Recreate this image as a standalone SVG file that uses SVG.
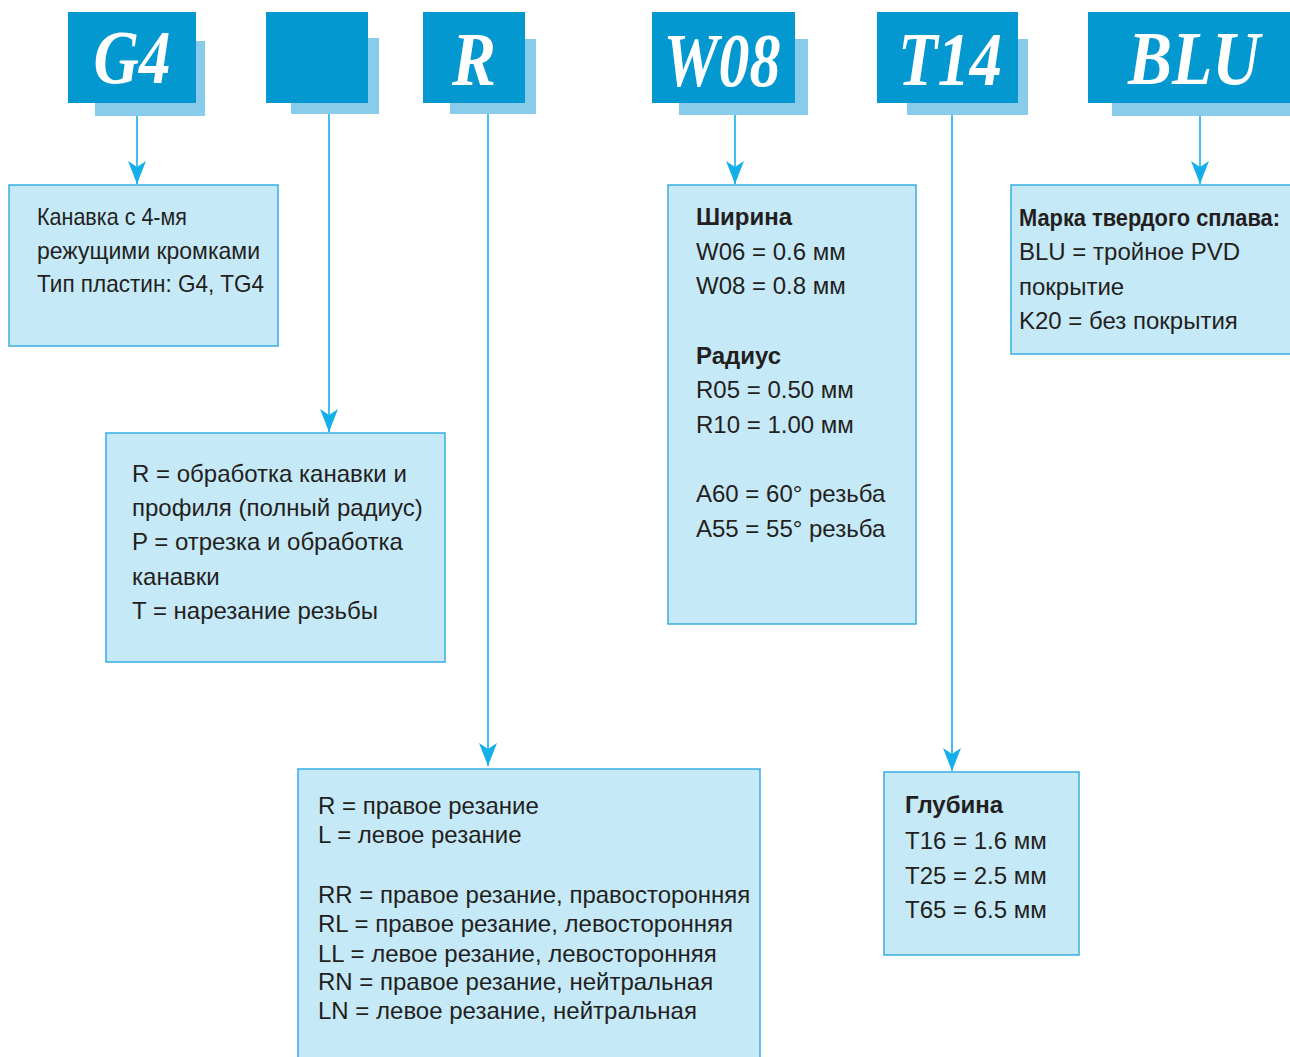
<svg xmlns="http://www.w3.org/2000/svg" width="1290" height="1057" viewBox="0 0 1290 1057">
  <style>
    .shadow { fill: #88cbea; }
    .code { fill: #0398cf; }
    .codetxt { font-family: "Liberation Serif", serif; font-weight: bold; font-style: italic; font-size: 76px; fill: #ffffff; text-anchor: middle; }
    .box { fill: #c6e9f8; stroke: #38ade1; stroke-width: 1.5; }
    .txt { font-family: "Liberation Sans", Arial, sans-serif; font-size: 24px; fill: #231f20; }
    .b { font-weight: bold; }
    .link { stroke: #14aee9; stroke-width: 1.6; fill: none; }
  </style>
  <defs>
    <marker id="arrow" markerWidth="18" markerHeight="24" refX="9" refY="23" orient="0" markerUnits="userSpaceOnUse">
      <path d="M0,0 L9,6 L18,0 L9,23 Z" fill="#14aee9"/>
    </marker>
  </defs>
  <rect width="1290" height="1057" fill="#ffffff"/>

  <!-- code blocks -->
  <g id="code-g4">
    <rect class="shadow" x="95" y="41" width="110" height="75"/>
    <rect class="code" x="68" y="12" width="128" height="91"/>
    <text class="codetxt" x="132" y="83" textLength="77" lengthAdjust="spacingAndGlyphs">G4</text>
  </g>
  <g id="code-blank">
    <rect class="shadow" x="291" y="38" width="88" height="76"/>
    <rect class="code" x="266" y="12" width="102" height="91"/>
  </g>
  <g id="code-r">
    <rect class="shadow" x="450" y="39" width="86" height="75"/>
    <rect class="code" x="423" y="12" width="102" height="91"/>
    <text class="codetxt" x="474" y="85" textLength="44" lengthAdjust="spacingAndGlyphs">R</text>
  </g>
  <g id="code-w08">
    <rect class="shadow" x="679" y="39" width="129" height="76"/>
    <rect class="code" x="652" y="12" width="143" height="91"/>
    <text class="codetxt" x="722" y="86" textLength="117" lengthAdjust="spacingAndGlyphs">W08</text>
  </g>
  <g id="code-t14">
    <rect class="shadow" x="907" y="39" width="121" height="76"/>
    <rect class="code" x="877" y="12" width="141" height="91"/>
    <text class="codetxt" x="950" y="85" textLength="104" lengthAdjust="spacingAndGlyphs">T14</text>
  </g>
  <g id="code-blu">
    <rect class="shadow" x="1112" y="39" width="178" height="77"/>
    <rect class="code" x="1088" y="12" width="202" height="91"/>
    <text class="codetxt" x="1194" y="84" textLength="132" lengthAdjust="spacingAndGlyphs">BLU</text>
  </g>

  <!-- connectors -->
  <g id="connectors">
    <line class="link" x1="137" y1="116" x2="137" y2="184" marker-end="url(#arrow)"/>
    <line class="link" x1="329" y1="114" x2="329" y2="432" marker-end="url(#arrow)"/>
    <line class="link" x1="488" y1="114" x2="488" y2="766" marker-end="url(#arrow)"/>
    <line class="link" x1="735" y1="115" x2="735" y2="184" marker-end="url(#arrow)"/>
    <line class="link" x1="952" y1="115" x2="952" y2="771" marker-end="url(#arrow)"/>
    <line class="link" x1="1200" y1="116" x2="1200" y2="184" marker-end="url(#arrow)"/>
  </g>

  <!-- description boxes -->
  <g id="desc-type">
    <rect class="box" x="9" y="185" width="269" height="161"/>
    <text class="txt" x="37" y="225" textLength="150" lengthAdjust="spacingAndGlyphs">Канавка с 4-мя</text>
    <text class="txt" x="37" y="259" textLength="223" lengthAdjust="spacingAndGlyphs">режущими кромками</text>
    <text class="txt" x="37" y="292" textLength="227" lengthAdjust="spacingAndGlyphs">Тип пластин: G4, TG4</text>
  </g>
  <g id="desc-application">
    <rect class="box" x="106" y="433" width="339" height="229"/>
    <text class="txt" x="132" y="482">R = обработка канавки и</text>
    <text class="txt" x="132" y="516">профиля (полный радиус)</text>
    <text class="txt" x="132" y="550">P = отрезка и обработка</text>
    <text class="txt" x="132" y="585">канавки</text>
    <text class="txt" x="132" y="619">T = нарезание резьбы</text>
  </g>
  <g id="desc-hand">
    <rect class="box" x="298" y="769" width="462" height="300"/>
    <text class="txt" x="318" y="814">R = правое резание</text>
    <text class="txt" x="318" y="843">L = левое резание</text>
    <text class="txt" x="318" y="903">RR = правое резание, правосторонняя</text>
    <text class="txt" x="318" y="932">RL = правое резание, левосторонняя</text>
    <text class="txt" x="318" y="962">LL = левое резание, левосторонняя</text>
    <text class="txt" x="318" y="990">RN = правое резание, нейтральная</text>
    <text class="txt" x="318" y="1019">LN = левое резание, нейтральная</text>
  </g>
  <g id="desc-width">
    <rect class="box" x="668" y="185" width="248" height="439"/>
    <text class="txt b" x="696" y="225">Ширина</text>
    <text class="txt" x="696" y="260">W06 = 0.6 мм</text>
    <text class="txt" x="696" y="294">W08 = 0.8 мм</text>
    <text class="txt b" x="696" y="364">Радиус</text>
    <text class="txt" x="696" y="398">R05 = 0.50 мм</text>
    <text class="txt" x="696" y="433">R10 = 1.00 мм</text>
    <text class="txt" x="696" y="502">A60 = 60° резьба</text>
    <text class="txt" x="696" y="537">A55 = 55° резьба</text>
  </g>
  <g id="desc-depth">
    <rect class="box" x="884" y="772" width="195" height="183"/>
    <text class="txt b" x="905" y="813">Глубина</text>
    <text class="txt" x="905" y="849">T16 = 1.6 мм</text>
    <text class="txt" x="905" y="884">T25 = 2.5 мм</text>
    <text class="txt" x="905" y="918">T65 = 6.5 мм</text>
  </g>
  <g id="desc-grade">
    <rect class="box" x="1011" y="185" width="290" height="169"/>
    <text class="txt b" x="1019" y="226" textLength="261" lengthAdjust="spacingAndGlyphs">Марка твердого сплава:</text>
    <text class="txt" x="1019" y="260">BLU = тройное PVD</text>
    <text class="txt" x="1019" y="295">покрытие</text>
    <text class="txt" x="1019" y="329">K20 = без покрытия</text>
  </g>
</svg>
